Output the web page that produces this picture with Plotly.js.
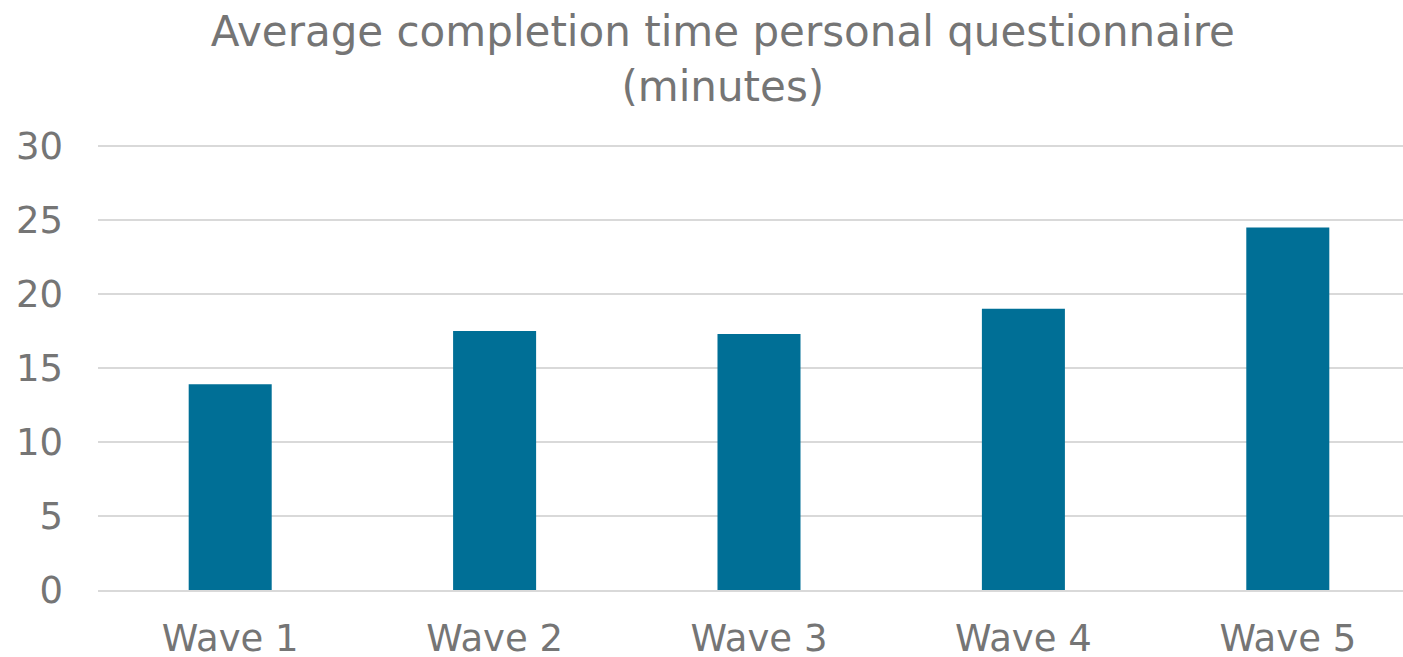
<!DOCTYPE html>
<html>
<head>
<meta charset="utf-8">
<script src="https://cdn.plot.ly/plotly-3.0.1.min.js"></script>
<style>
html,body{margin:0;padding:0;overflow:hidden;background:#fff;}
#chart{width:1420px;height:657px;}
</style>
</head>
<body>
<div id="chart"></div>
<script>
const categories = ["Wave 1", "Wave 2", "Wave 3", "Wave 4", "Wave 5"];
const minutes = [13.9, 17.5, 17.3, 19.0, 24.5];
const yTicks = [0, 5, 10, 15, 20, 25, 30];

const fontFam = "Verdana, 'DejaVu Sans', sans-serif";
const gray = "#757575";

Plotly.newPlot("chart", [{
  type: "bar",
  x: categories,
  y: minutes,
  marker: {color: "#006F96"},
  hoverinfo: "x+y"
}], {
  width: 1420,
  height: 657,
  margin: {l: 98, r: 0, t: 142, b: 67},
  paper_bgcolor: "#ffffff",
  plot_bgcolor: "#ffffff",
  bargap: 0.686,
  showlegend: false,
  title: {
    text: "Average completion time personal questionnaire<br>(minutes)",
    font: {family: fontFam, size: 42, color: gray},
    x: 0.509, xref: "container", xanchor: "center",
    y: 0.93, yref: "container", yanchor: "top"
  },
  xaxis: {
    type: "category",
    showgrid: false,
    showline: true,
    linecolor: "#d9d9d9",
    linewidth: 1.5,
    ticks: "",
    ticklabelstandoff: 15,
    tickfont: {family: fontFam, size: 37, color: gray},
    automargin: false
  },
  yaxis: {
    range: [0, 30.27],
    tickvals: yTicks,
    ticktext: yTicks.map(String),
    showgrid: true,
    gridcolor: "#d9d9d9",
    gridwidth: 1.5,
    zeroline: false,
    showline: false,
    ticks: "",
    ticklabelstandoff: 34,
    tickfont: {family: fontFam, size: 37, color: gray},
    automargin: false
  }
}, {displayModeBar: false, staticPlot: true});
</script>
</body>
</html>
